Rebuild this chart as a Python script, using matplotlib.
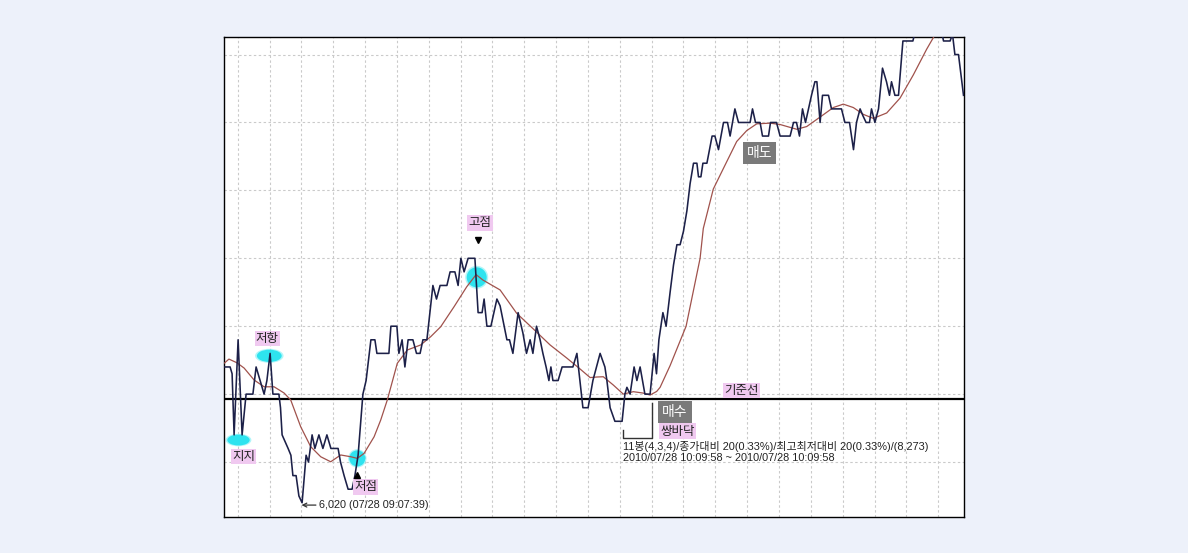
import matplotlib
matplotlib.use("Agg")
import matplotlib.pyplot as plt
from matplotlib.patches import Ellipse

# ---------------- data (bar index, price in won) ----------------
price_bar = [0, 1.4, 1.9, 2.4, 3.4, 4.4, 5.4, 7.1, 7.9, 8.9, 9.9, 10.6, 11.4, 12.1, 13.6,
             14, 14.4, 15.9, 16.6, 17.1, 17.9, 18.6, 19.4, 20.4, 21, 21.9, 22.6, 23.6, 24.6,
             25.6, 26.6, 28.4, 29, 29.9, 30.9, 31.9, 32.6, 33.4, 34.6, 35.4, 36.6, 37.6, 38.1,
             41.1, 41.6, 43.1, 43.6, 44.4, 45.1, 45.9, 47.1, 48, 48.9, 49.6, 50.6, 52.1, 53,
             53.9, 55.6, 56.4, 57.6, 58.4, 59.1, 59.9, 60.9, 62.6, 63.4, 64.4, 64.9, 65.6, 66.6,
             68.1, 68.9, 70.6, 71.25, 72.1, 73.4, 74.6, 75.5, 76.4, 77.1, 78, 78.9, 79.6, 80.4,
             81.1, 81.6, 82.1, 83.4, 84.4, 87.1, 88.1, 89.6, 90.9, 92.1, 93.9, 95.1, 95.6, 96.4,
             97.6, 99.4, 100.1, 100.6, 101.4, 102.4, 103.1, 103.9, 105.1, 106.4, 107.4, 108,
             108.6, 109.6, 110.4, 111.4, 112.25, 113.1, 113.9, 114.75, 115.6, 116.4, 117.25,
             118.1, 118.5, 119.1, 119.6, 120.6, 121.9, 122.6, 123.5, 124.75, 125.75, 126.4,
             127.6, 128.5, 131.4, 132, 132.75, 133.9, 134.5, 136, 136.5, 138, 138.9, 141.4,
             142.25, 143, 143.75, 144.5, 145.25, 146, 146.75, 147.6, 148.1, 148.9, 149.5, 151,
             151.75, 154.25, 155.1, 156.25, 157.25, 158, 158.9, 159.6, 160.4, 161.25, 161.75,
             162.6, 163.5, 164.5, 165.5, 166.25, 166.75, 167.6, 168.5, 169.6, 172.1, 172.9,
             179.1, 179.75, 181.4, 182, 182.6, 183.5, 184.75]
price_val = [6120, 6120, 6115, 6070, 6140, 6070, 6100, 6100, 6120, 6110, 6100, 6110, 6130, 6100, 6100,
             6090, 6070, 6060, 6055, 6040, 6040, 6025, 6020, 6055, 6050, 6070, 6060, 6070, 6060,
             6070, 6060, 6060, 6050, 6040, 6030, 6030, 6040, 6055, 6100, 6110, 6140, 6140, 6130,
             6130, 6150, 6150, 6130, 6140, 6120, 6140, 6140, 6130, 6130, 6140, 6140, 6180, 6170,
             6180, 6180, 6190, 6190, 6180, 6200, 6190, 6200, 6200, 6160, 6160, 6170, 6150, 6150,
             6170, 6165, 6140, 6140, 6130, 6160, 6145, 6130, 6140, 6130, 6150, 6140, 6130, 6120,
             6110, 6120, 6110, 6110, 6120, 6120, 6130, 6090, 6090, 6110, 6130, 6120, 6110, 6090,
             6080, 6080, 6100, 6105, 6100, 6120, 6110, 6120, 6100, 6100, 6130, 6115,
             6140, 6160, 6150, 6175, 6195, 6210, 6210, 6220, 6235, 6255, 6270,
             6270, 6260, 6260, 6270, 6270, 6290, 6290, 6280, 6300, 6300, 6290,
             6310, 6300, 6300, 6310, 6300, 6300, 6290, 6290, 6300, 6300, 6290, 6290,
             6300, 6300, 6290, 6310, 6300, 6310, 6320, 6330, 6330, 6300, 6320, 6320,
             6310, 6310, 6300, 6300, 6280, 6300, 6310, 6305, 6300, 6300, 6310,
             6300, 6310, 6340, 6330, 6320, 6330, 6320, 6320, 6360, 6360, 6370,
             6370, 6360, 6360, 6365, 6350, 6350, 6320]

ma_bar = [0, 1.1, 3.1, 4.9, 7.4, 9.9, 12.4, 14.9, 16.55, 19.05, 21.55, 24.05, 26.55, 29.05,
          31.55, 33.2, 34.9, 37.4, 39.05, 40.7, 43.2, 45.7, 49.05, 51.55, 54.05, 57.4, 60.55,
          62.9, 64.6, 68.9, 73.05, 77.2, 81.4, 85.55, 88.9, 91.4, 93.1, 94.7, 97.2, 99.7,
          102.2, 104.6, 106.4, 108.05, 108.9, 111.4, 115.4, 118.9, 119.7, 122.2, 124.7, 128.05,
          130.55, 133.05, 136.4, 138.9, 143.05, 145.55, 148.9, 152.2, 154.7, 157.2, 159.7,
          162.2, 165.55, 168.9, 172.2, 175.55, 177.9, 181.4, 184.75]
ma_val = [6122.9, 6125.8, 6123.1, 6119.2, 6110.4, 6105.4, 6105.4, 6100.8, 6095.7, 6076, 6061.3,
          6053.9, 6050.2, 6055.2, 6053.9, 6052.7, 6056.4, 6068.6, 6080.9, 6095.7, 6122.7, 6132.5,
          6136.2, 6142.3, 6149.6, 6164.4, 6179, 6188, 6184, 6176.7, 6159.5, 6148, 6136.2, 6126.6,
          6118.5, 6112.2, 6112.6, 6112.8, 6106.7, 6100, 6101.8, 6100.8, 6099.3, 6102, 6105,
          6121, 6150, 6200, 6222, 6251, 6266, 6286, 6294, 6299, 6299.5, 6298.5, 6295, 6297,
          6304, 6311, 6313.5, 6311, 6306, 6303, 6307, 6318, 6335, 6354, 6366, 6372, 6374]

base_price = 6096.4            # 기준선
low_price, low_bar = 6020, 19.45
low_text = "6,020 (07/28 09:07:39)"
info_lines = ["11봉(4,3,4)/종가대비 20(0.33%)/최고최저대비 20(0.33%)/(8,273)",
              "2010/07/28 10:09:58 ~ 2010/07/28 10:09:58"]

# pink labels: (text, bar, price)
pink_labels = [("저항", 10.7, 6141.1), ("지지", 4.75, 6053.9), ("저점", 35.3, 6031.8),
               ("고점", 63.9, 6226.0), ("기준선", 129.2, 6102.8), ("쌍바닥", 113.3, 6072.7)]
gray_labels = [("매수", 112.6, 6086.8), ("매도", 133.8, 6277.3)]

# cyan highlight blobs: (bar, price, width in bars, height in won)
blobs = [(3.5, 6066.2, 5.6, 8.0), (11.2, 6128.2, 6.2, 9.0),
         (33.2, 6052.7, 4.0, 11.8), (63.05, 6186.0, 5.0, 14.7)]

# double bottom bracket
dbl_left, dbl_right = 99.5, 106.8
dbl_bottom, dbl_left_top, dbl_right_top = 6067.7, 6073.6, 6093.4

# ---------------- figure ----------------
W, H = 1188, 553
fig = plt.figure(figsize=(W / 100, H / 100), dpi=100, facecolor="#edf1fa")
ax = fig.add_axes([224.5 / W, 1 - 516.5 / H, 739 / W, 480 / H])
ax.set_facecolor("white")
ax.set_xlim(0, 184.75)
ax.set_ylim(6009.9, 6363.3)

# grid
grid_kw = dict(color="#cacaca", lw=0.8, ls=(0, (2.2, 2.2)), zorder=1)
k = 0
while 3.3 + 7.96 * k < 184.5:
    ax.axvline(3.3 + 7.96 * k, **grid_kw)
    k += 1
for gy in range(6050, 6360, 50):
    ax.axhline(gy, **grid_kw)

for s in ax.spines.values():
    s.set_color("black")
    s.set_linewidth(1.0)
ax.set_xticks([])
ax.set_yticks([])

# cyan blobs
for bx, by, bw, bh in blobs:
    ax.add_patch(Ellipse((bx, by), bw * 1.15, bh * 1.15, facecolor="#7cf0f6",
                         edgecolor="none", alpha=0.6, zorder=2))
    ax.add_patch(Ellipse((bx, by), bw, bh, facecolor="#2ee3ef", edgecolor="none", zorder=2))

# base line
ax.axhline(base_price, color="black", lw=1.6, zorder=3)

# series
ax.plot(ma_bar, ma_val, color="#a0524c", lw=0.9, zorder=4)
ax.plot(price_bar, price_val, color="#1c2048", lw=1.15, zorder=5)

# double bottom bracket
ax.plot([dbl_left, dbl_left, dbl_right, dbl_right],
        [dbl_left_top, dbl_bottom, dbl_bottom, dbl_right_top],
        color="#333333", lw=1.0, zorder=5)

fam = ["Liberation Sans", "Noto Sans CJK KR"]

for t, bx, by in pink_labels:
    ax.text(bx, by, t, ha="center", va="center", fontsize=9, color="#222222",
            family=["Noto Sans CJK KR"], zorder=7,
            bbox=dict(boxstyle="square,pad=0.1", facecolor="#f0c9f0", edgecolor="none"))
for t, bx, by in gray_labels:
    ax.text(bx, by, t, ha="center", va="center", fontsize=10, color="white",
            family=["Noto Sans CJK KR"], zorder=7,
            bbox=dict(boxstyle="square,pad=0.28", facecolor="#7a7a7a", edgecolor="none"))

# triangles
ax.plot([63.3], [6213.8], marker="v", color="black", ms=5, zorder=7)
ax.plot([33.05], [6040.1], marker="^", color="black", ms=5, zorder=7)

# low annotation
ax.annotate("", xy=(low_bar - 0.2, 6018.3), xytext=(low_bar + 3.4, 6018.3),
            arrowprops=dict(arrowstyle="->", color="#333333", lw=0.9,
                            mutation_scale=7, shrinkA=0, shrinkB=0), zorder=7)
ax.text(low_bar + 4.1, 6018.3, low_text, ha="left", va="center", fontsize=7.8,
        color="#222222", family=fam, zorder=7)

ax.text(99.6, 6061.8, info_lines[0], ha="left", va="center", fontsize=7.9,
        color="#222222", family=fam, zorder=7)
ax.text(99.6, 6052.9, info_lines[1], ha="left", va="center", fontsize=7.8,
        color="#222222", family=fam, zorder=7)

fig.savefig("out.png", dpi=100, facecolor=fig.get_facecolor())
